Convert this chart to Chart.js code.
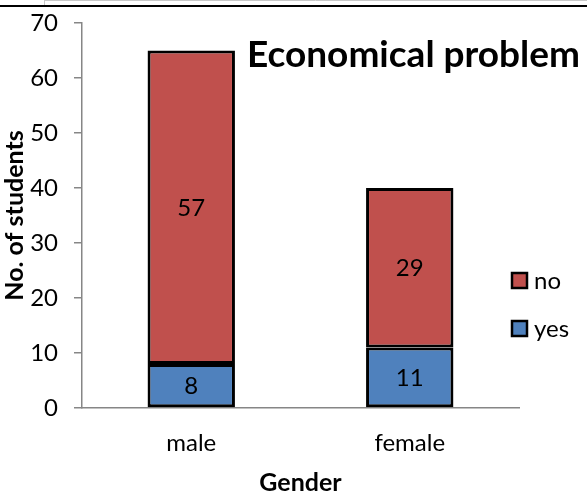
<!DOCTYPE html>
<html>
<head>
<meta charset="utf-8">
<script src="https://cdn.jsdelivr.net/npm/chart.js@4/dist/chart.umd.min.js"></script>
<style>
  html, body { margin: 0; padding: 0; background: #fff; }
  #wrap { width: 587px; height: 498px; position: relative; }
</style>
</head>
<body>
<div id="wrap"><canvas id="myChart"></canvas></div>
<script>
const genders = ['male', 'female'];
const yesValues = [8, 11];
const noValues = [57, 29];
const yMin = 0, yMax = 70, yStep = 10;
const chartTitle = 'Economical problem';
const xTitle = 'Gender';
const yTitle = 'No. of students';

const fontName = 'Lato';
const axisGray = '#868686';

// подписи значений в центре каждого сегмента
const valueLabels = {
   id: 'valueLabels',
   afterDatasetsDraw(chart) {
      const ctx = chart.ctx;
      ctx.save();
      ctx.font = '24px ' + fontName;
      ctx.fillStyle = '#000';
      ctx.textAlign = 'center';
      ctx.textBaseline = 'middle';
      chart.data.datasets.forEach((ds, i) => {
         chart.getDatasetMeta(i).data.forEach((bar, j) => {
            ctx.fillText(ds.data[j], bar.x, (bar.y + bar.base) / 2 + 1);
         });
      });
      ctx.restore();
   }
};

// заголовок поверх графика, легенда справа и рамка сверху
const extras = {
   id: 'extras',
   afterDraw(chart) {
      const ctx = chart.ctx;
      ctx.save();
      // рамка
      ctx.strokeStyle = '#c8c8c8';
      ctx.lineWidth = 1;
      ctx.beginPath();
      ctx.moveTo(44.5, 0); ctx.lineTo(44.5, 5);
      ctx.moveTo(44, 0.5); ctx.lineTo(587, 0.5);
      ctx.stroke();
      ctx.strokeStyle = '#000';
      ctx.lineWidth = 2;
      ctx.beginPath();
      ctx.moveTo(0, 6); ctx.lineTo(587, 6);
      ctx.stroke();

      // заголовок
      ctx.font = 'bold 37px ' + fontName;
      ctx.fillStyle = '#000';
      ctx.textAlign = 'left';
      ctx.textBaseline = 'alphabetic';
      ctx.fillText(chartTitle, 247, 67);

      // легенда (no сверху, yes снизу)
      const items = chart.data.datasets.slice().reverse();
      items.forEach((ds, k) => {
         const cy = 280 + k * 48;
         ctx.fillStyle = ds.backgroundColor;
         ctx.fillRect(512, cy - 7, 15, 15);
         ctx.strokeStyle = '#000';
         ctx.lineWidth = 2.5;
         ctx.strokeRect(512, cy - 7, 15, 15);
         ctx.fillStyle = '#000';
         ctx.font = '24px ' + fontName;
         ctx.textBaseline = 'middle';
         ctx.fillText(ds.label, 534, cy + 1);
      });
      ctx.restore();
   }
};

const ctx = document.getElementById('myChart').getContext('2d');

const chart = new Chart(ctx, {
   type: 'bar',
   data: {
      labels: genders,
      datasets: [
         {
            label: 'yes',
            data: yesValues,
            backgroundColor: '#4F81BD',
            borderColor: '#000',
            borderWidth: 3,
            borderSkipped: false
         },
         {
            label: 'no',
            data: noValues,
            backgroundColor: '#C0504D',
            borderColor: '#000',
            borderWidth: 3,
            borderSkipped: false
         }
      ]
   },
   options: {
      responsive: true,
      maintainAspectRatio: false,
      animation: false,
      layout: { autoPadding: false, padding: { top: 23, right: 68, left: 0, bottom: 0 } },
      datasets: { bar: { barPercentage: 0.4, categoryPercentage: 1 } },
      plugins: {
         legend: { display: false },
         tooltip: { enabled: false }
      },
      scales: {
         x: {
            stacked: true,
            grid: { display: false, drawTicks: false },
            border: { color: axisGray, width: 1.5 },
            ticks: { color: '#000', font: { family: fontName, size: 24 }, padding: 21 },
            title: {
               display: true, text: xTitle, color: '#000',
               font: { family: fontName, size: 25, weight: 'bold' },
               padding: { top: 0, bottom: 0 }
            },
            afterFit: s => { s.height = 90; }
         },
         y: {
            stacked: true,
            min: yMin, max: yMax,
            ticks: { stepSize: yStep, color: '#000', font: { family: fontName, size: 24 }, padding: 16 },
            grid: { drawOnChartArea: false, tickLength: 8, color: axisGray, lineWidth: 1.5 },
            border: { color: axisGray, width: 1.5 },
            title: {
               display: true, text: yTitle, color: '#000',
               font: { family: fontName, size: 25, weight: 'bold' },
               padding: { top: 0, bottom: 0 }
            },
            afterFit: s => { s.width = 82; s.paddingTop = 0; s.paddingBottom = 0; }
         }
      }
   },
   plugins: [valueLabels, extras]
});
</script>
</body>
</html>
